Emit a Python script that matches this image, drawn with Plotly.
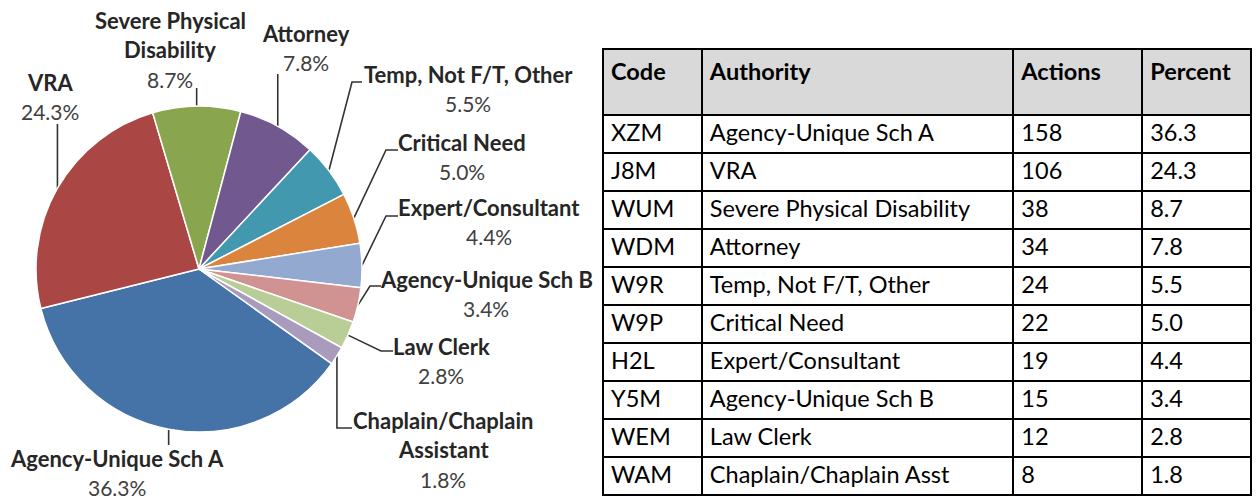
import math
import plotly.graph_objects as go

# ---------------- data ----------------
CODES = ["XZM", "J8M", "WUM", "WDM", "W9R", "W9P", "H2L", "Y5M", "WEM", "WAM"]
AUTHORITY = ["Agency-Unique Sch A", "VRA", "Severe Physical Disability", "Attorney",
             "Temp, Not F/T, Other", "Critical Need", "Expert/Consultant",
             "Agency-Unique Sch B", "Law Clerk", "Chaplain/Chaplain Asst"]
ACTIONS = [158, 106, 38, 34, 24, 22, 19, 15, 12, 8]
PERCENT = [36.3, 24.3, 8.7, 7.8, 5.5, 5.0, 4.4, 3.4, 2.8, 1.8]
PIE_LABELS = [["Agency-Unique Sch A"], ["VRA"], ["Severe Physical", "Disability"], ["Attorney"],
              ["Temp, Not F/T, Other"], ["Critical Need"], ["Expert/Consultant"],
              ["Agency-Unique Sch B"], ["Law Clerk"], ["Chaplain/Chaplain", "Assistant"]]
HEADERS = ["Code", "Authority", "Actions", "Percent"]

# ---------------- style / layout ----------------
COLORS = ["#4572A7", "#AA4643", "#89A54E", "#71588F", "#4198AF",
          "#DB843D", "#93A9CF", "#D19392", "#B9CD96", "#A99BBD"]
W, H = 1257, 499
CX, CY, R = 199, 269, 163
ROT = 125.5
FONT = "Lato"
NAME_FS = 22
PCT_FS = 21
TABLE_FS = 23.5
LINE_SP = 29.5
# label anchor (center x, center y of first line), in pixels
LABEL_POS = [(117, 458), (50, 82), (170, 20), (306, 33), (468, 74),
             (462, 142), (489, 207), (486, 279), (441, 346), (443, 420)]
# leader-line waypoints after the slice edge point; None for x means "same x as edge"
LEADERS = [[(None, 445)], [(None, 124)], [(None, 88)], [(None, 74)],
           [(352, 82), (362, 82)], [(386, 150), (398, 150)], [(386, 216), (398, 216)],
           [(370, 286), (381, 286)], [(381, 351), (393, 351)], [(None, 428), (352, 428)]]

fig = go.Figure()

fig.add_trace(go.Pie(
    values=ACTIONS, labels=AUTHORITY, sort=False, direction="clockwise", rotation=ROT,
    marker=dict(colors=COLORS, line=dict(color="white", width=1.5)),
    textinfo="none", hoverinfo="label+percent", showlegend=False,
    domain=dict(x=[(CX - R) / W, (CX + R) / W], y=[1 - (CY + R) / H, 1 - (CY - R) / H]),
))

# leader lines, from each slice's mid-angle edge point
total = sum(ACTIONS)
cum = 0
annotations = []
for i, v in enumerate(ACTIONS):
    mid = math.radians(ROT + 360.0 * (cum + v / 2.0) / total)
    cum += v
    ex, ey = CX + R * math.sin(mid), CY - R * math.cos(mid)
    xs, ys = [ex], [ey]
    for (wx, wy) in LEADERS[i]:
        xs.append(ex if wx is None else wx)
        ys.append(wy)
    fig.add_trace(go.Scatter(x=xs, y=ys, mode="lines", line=dict(color="#333333", width=1.6),
                             hoverinfo="skip", showlegend=False))
    lx, ly = LABEL_POS[i]
    lines = [f"<b>{t}</b>" for t in PIE_LABELS[i]] + [f"{PERCENT[i]:.1f}%"]
    for k, t in enumerate(lines):
        is_name = k < len(lines) - 1
        annotations.append(dict(x=lx, y=ly + k * LINE_SP, xref="x", yref="y", text=t,
                                showarrow=False, xanchor="center", yanchor="middle",
                                font=dict(family=FONT, size=NAME_FS if is_name else PCT_FS,
                                          color="#262626" if is_name else "#404040")))

fig.add_trace(go.Table(
    domain=dict(x=[603 / W, 1252 / W], y=[0, 1 - 49 / H]),
    columnwidth=[99, 312, 129, 109],
    header=dict(values=[f"<b>{h}</b>" for h in HEADERS], fill_color="#D9D9D9",
                line=dict(color="black", width=2), align="left", height=66,
                font=dict(family=FONT, size=TABLE_FS, color="black")),
    cells=dict(values=[CODES, AUTHORITY, [str(a) for a in ACTIONS], [f"{p:.1f}" for p in PERCENT]],
               fill_color="white", line=dict(color="black", width=2), align="left", height=38,
               font=dict(family=FONT, size=TABLE_FS, color="black")),
))

fig.update_layout(
    width=W, height=H, autosize=False,
    margin=dict(l=0, r=0, t=0, b=0),
    paper_bgcolor="white", plot_bgcolor="rgba(0,0,0,0)",
    xaxis=dict(range=[0, W], visible=False, fixedrange=True, domain=[0, 1]),
    yaxis=dict(range=[H, 0], visible=False, fixedrange=True, domain=[0, 1]),
    annotations=annotations,
)

fig.write_html("out.html", config={"displayModeBar": False},
               post_script="document.body.style.margin='0';")
